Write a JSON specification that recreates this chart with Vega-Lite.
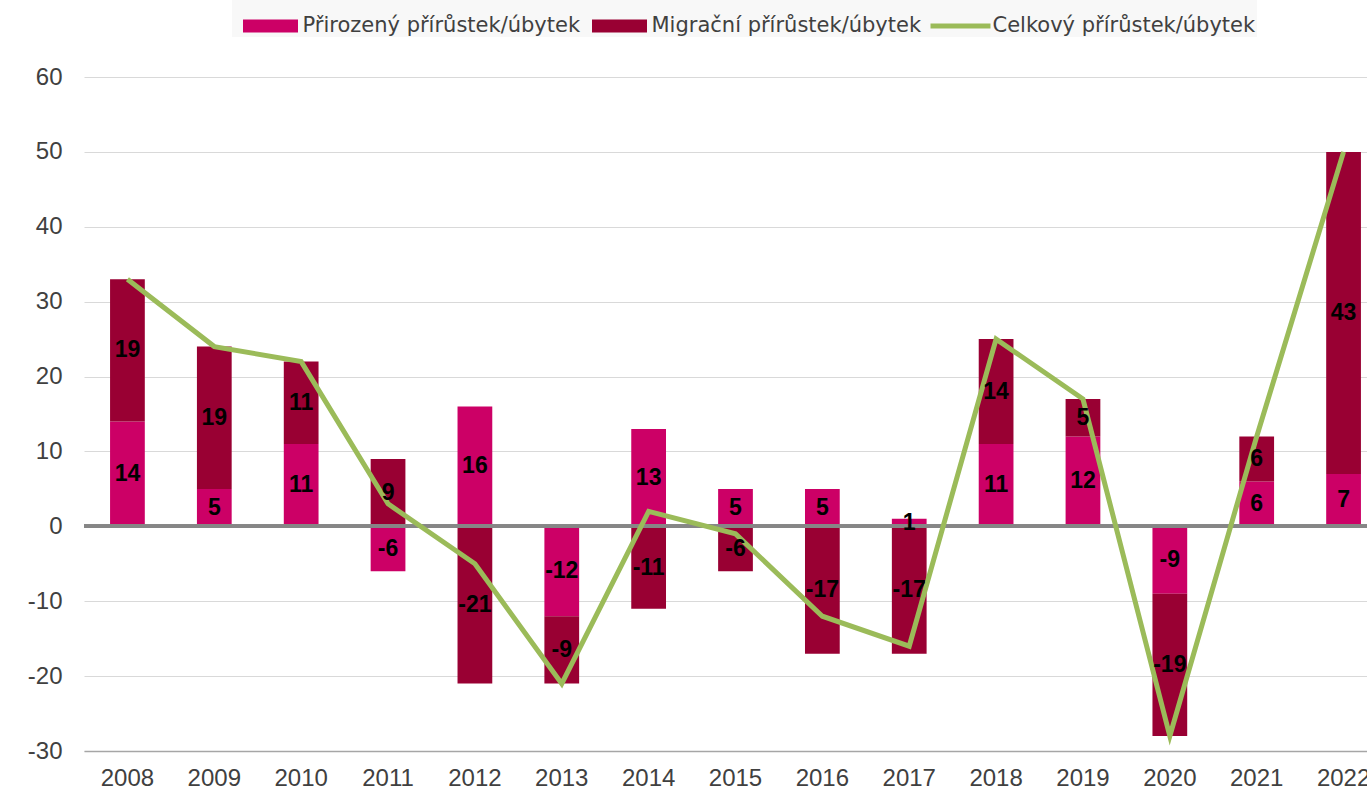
{
  "$schema": "https://vega.github.io/schema/vega-lite/v6.json",
  "width": 1283,
  "height": 674,
  "autosize": {"type": "none"},
  "padding": {"left": 84, "top": 77, "right": 0, "bottom": 38},
  "background": "#FFFFFF",
  "config": {
    "view": {"stroke": null},
    "axis": {"labelFont": "Liberation Sans", "labelFontSize": 24, "labelColor": "#404040", "ticks": false, "title": null}
  },
  "data": {
    "values": [
      {"year": "2008", "series": "Přirozený přírůstek/úbytek", "value": 14},
      {"year": "2008", "series": "Migrační přírůstek/úbytek", "value": 19},
      {"year": "2008", "series": "Celkový přírůstek/úbytek", "value": 33},
      {"year": "2009", "series": "Přirozený přírůstek/úbytek", "value": 5},
      {"year": "2009", "series": "Migrační přírůstek/úbytek", "value": 19},
      {"year": "2009", "series": "Celkový přírůstek/úbytek", "value": 24},
      {"year": "2010", "series": "Přirozený přírůstek/úbytek", "value": 11},
      {"year": "2010", "series": "Migrační přírůstek/úbytek", "value": 11},
      {"year": "2010", "series": "Celkový přírůstek/úbytek", "value": 22},
      {"year": "2011", "series": "Přirozený přírůstek/úbytek", "value": -6},
      {"year": "2011", "series": "Migrační přírůstek/úbytek", "value": 9},
      {"year": "2011", "series": "Celkový přírůstek/úbytek", "value": 3},
      {"year": "2012", "series": "Přirozený přírůstek/úbytek", "value": 16},
      {"year": "2012", "series": "Migrační přírůstek/úbytek", "value": -21},
      {"year": "2012", "series": "Celkový přírůstek/úbytek", "value": -5},
      {"year": "2013", "series": "Přirozený přírůstek/úbytek", "value": -12},
      {"year": "2013", "series": "Migrační přírůstek/úbytek", "value": -9},
      {"year": "2013", "series": "Celkový přírůstek/úbytek", "value": -21},
      {"year": "2014", "series": "Přirozený přírůstek/úbytek", "value": 13},
      {"year": "2014", "series": "Migrační přírůstek/úbytek", "value": -11},
      {"year": "2014", "series": "Celkový přírůstek/úbytek", "value": 2},
      {"year": "2015", "series": "Přirozený přírůstek/úbytek", "value": 5},
      {"year": "2015", "series": "Migrační přírůstek/úbytek", "value": -6},
      {"year": "2015", "series": "Celkový přírůstek/úbytek", "value": -1},
      {"year": "2016", "series": "Přirozený přírůstek/úbytek", "value": 5},
      {"year": "2016", "series": "Migrační přírůstek/úbytek", "value": -17},
      {"year": "2016", "series": "Celkový přírůstek/úbytek", "value": -12},
      {"year": "2017", "series": "Přirozený přírůstek/úbytek", "value": 1},
      {"year": "2017", "series": "Migrační přírůstek/úbytek", "value": -17},
      {"year": "2017", "series": "Celkový přírůstek/úbytek", "value": -16},
      {"year": "2018", "series": "Přirozený přírůstek/úbytek", "value": 11},
      {"year": "2018", "series": "Migrační přírůstek/úbytek", "value": 14},
      {"year": "2018", "series": "Celkový přírůstek/úbytek", "value": 25},
      {"year": "2019", "series": "Přirozený přírůstek/úbytek", "value": 12},
      {"year": "2019", "series": "Migrační přírůstek/úbytek", "value": 5},
      {"year": "2019", "series": "Celkový přírůstek/úbytek", "value": 17},
      {"year": "2020", "series": "Přirozený přírůstek/úbytek", "value": -9},
      {"year": "2020", "series": "Migrační přírůstek/úbytek", "value": -19},
      {"year": "2020", "series": "Celkový přírůstek/úbytek", "value": -28},
      {"year": "2021", "series": "Přirozený přírůstek/úbytek", "value": 6},
      {"year": "2021", "series": "Migrační přírůstek/úbytek", "value": 6},
      {"year": "2021", "series": "Celkový přírůstek/úbytek", "value": 12},
      {"year": "2022", "series": "Přirozený přírůstek/úbytek", "value": 7},
      {"year": "2022", "series": "Migrační přírůstek/úbytek", "value": 43},
      {"year": "2022", "series": "Celkový přírůstek/úbytek", "value": 50}
    ]
  },
  "encoding": {
    "x": {
      "field": "year", "type": "nominal", "sort": null,
      "scale": {"type": "band", "range": [0, 1303], "paddingInner": 0.6, "paddingOuter": 0.3},
      "axis": {"orient": "bottom", "labelAngle": 0, "labelPadding": 15, "domain": true, "domainColor": "#A6A6A6", "domainWidth": 1.5, "grid": false}
    }
  },
  "layer": [
    {
      "transform": [{"filter": "datum.series !== 'Celkový přírůstek/úbytek'"}],
      "mark": {"type": "bar"},
      "encoding": {
        "y": {
          "field": "value", "type": "quantitative", "stack": "zero",
          "scale": {"domain": [-30, 60], "nice": false, "zero": false},
          "axis": {"values": [-30, -20, -10, 0, 10, 20, 30, 40, 50, 60], "labelExpr": "'' + datum.value", "domain": false, "grid": true, "gridColor": "#D9D9D9", "gridWidth": 1, "labelPadding": 22}
        },
        "color": {
          "field": "series", "type": "nominal",
          "scale": {
            "domain": ["Přirozený přírůstek/úbytek", "Migrační přírůstek/úbytek", "Celkový přírůstek/úbytek"],
            "range": ["#CC0066", "#990033", "#9BBB59"]
          },
          "legend": {
            "title": null,
            "orient": "none",
            "legendX": 148,
            "legendY": -77,
            "direction": "horizontal",
            "fillColor": "#F8F8F8",
            "padding": 1,
            "symbolSize": 2500,
            "symbolOffset": 12.5,
            "symbolStrokeWidth": 0,
            "labelOffset": 7,
            "columnPadding": 1,
            "labelFont": "DejaVu Sans",
            "labelFontSize": 21,
            "labelColor": "#404040",
            "labelLimit": 0,
            "encode": {
              "symbols": {
                "update": {
                  "shape": {"signal": "datum.value === 'Celkový přírůstek/úbytek' ? 'M-1.2,-0.1H1.2V0.1H-1.2Z' : 'M-1.1,-0.26H1.1V0.26H-1.1Z'"},
                  "opacity": {"value": 1}
                }
              }
            }
          }
        },
        "order": {"field": "series", "sort": "descending"}
      }
    },
    {
      "mark": {"type": "rule", "color": "#868686", "strokeWidth": 3},
      "encoding": {"y": {"datum": 0, "type": "quantitative"}, "x": {"value": 0}, "x2": {"value": 1303}}
    },
    {
      "transform": [{"filter": "datum.series === 'Celkový přírůstek/úbytek'"}],
      "mark": {"type": "line", "color": "#9BBB59", "strokeWidth": 5},
      "encoding": {
        "y": {"field": "value", "type": "quantitative"}
      }
    },
    {
      "transform": [{"filter": "datum.series !== 'Celkový přírůstek/úbytek'"}],
      "mark": {"type": "text", "font": "Liberation Sans", "fontWeight": "bold", "fontSize": 23, "color": "#000000", "baseline": "middle"},
      "encoding": {
        "y": {"field": "value", "type": "quantitative", "stack": "zero", "bandPosition": 0.5},
        "detail": {"field": "series"},
        "order": {"field": "series", "sort": "descending"},
        "text": {"field": "value", "type": "nominal"}
      }
    }
  ]
}
